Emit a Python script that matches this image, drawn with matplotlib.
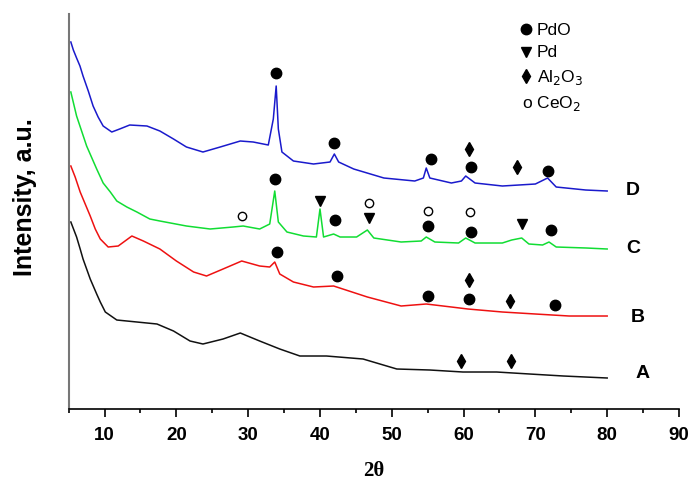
import matplotlib
matplotlib.use("Agg")
import matplotlib.pyplot as plt
from matplotlib.ticker import MultipleLocator

plt.rcParams['font.family'] = ['Liberation Sans', 'DejaVu Sans']

# ---- data (intensity in arbitrary units) ----
D_x = [5.3, 5.65, 6.1, 6.57, 7.0, 7.73, 8.4, 9.1, 9.8, 11.0, 12.1, 13.5, 15.9, 17.7, 19.6, 21.4,
       23.7, 26.1, 28.9, 30.7, 32.8, 33.5, 33.9, 34.2, 34.7, 36.3, 39.1, 41.4, 42.0, 42.6, 44.7,
       48.9, 53.2, 54.4, 54.8, 55.3, 58.3, 59.7, 60.3, 61.6, 65.4, 70.0, 71.7, 72.9, 77.0, 80.0]
D_y = [367, 359, 351, 343, 333, 318, 303, 292, 283, 277, 280, 284, 283, 278, 270, 262,
       257, 262, 268, 267, 264, 290, 323, 280, 257, 248, 245, 247, 255, 247, 240,
       231, 228, 231, 241, 231, 226, 228, 233, 226, 223, 225, 231, 222, 219, 218]

C_x = [5.3, 6.1, 7.5, 8.9, 9.8, 10.8, 11.7, 13.1, 14.5, 16.3, 17.7, 21.4, 24.7, 27.9, 29.3, 31.6,
       33.0, 33.7, 34.2, 35.4, 37.7, 39.5, 40.0, 40.5, 41.9, 42.8, 45.1, 46.6, 47.5, 51.3, 54.1,
       54.8, 56.0, 59.3, 60.3, 61.6, 65.4, 66.7, 68.1, 69.1, 71.0, 71.9, 72.9, 77.1, 80.0]
C_y = [317, 293, 263, 240, 226, 217, 208, 202, 197, 190, 188, 183, 180, 182, 183, 180,
       185, 218, 187, 177, 173, 172, 200, 172, 175, 172, 172, 179, 171, 167, 168,
       172, 167, 166, 171, 166, 166, 169, 171, 165, 164, 167, 162, 161, 160]

B_x = [5.3, 5.9, 6.6, 7.3, 8.0, 8.7, 9.4, 10.5, 11.9, 13.8, 15.4, 17.7, 20.0, 22.4, 24.2, 26.5,
       29.1, 31.6, 33.0, 33.7, 34.4, 36.3, 39.1, 41.9, 46.6, 51.3, 54.8, 58.3, 60.6, 65.4, 70.0,
       74.7, 80.0]
B_y = [243, 232, 217, 205, 193, 180, 170, 162, 163, 173, 168, 160, 148, 137, 133, 140,
       148, 143, 142, 147, 135, 127, 122, 123, 112, 103, 105, 102, 100, 97, 95,
       93, 93]

A_x = [5.3, 6.1, 6.6, 7.0, 8.0, 8.9, 9.4, 10.1, 11.7, 14.5, 17.3, 19.6, 21.9, 23.7, 26.5, 28.9,
       31.6, 34.4, 37.2, 40.9, 46.0, 50.7, 55.3, 59.9, 64.6, 69.2, 73.9, 80.0]
A_y = [187, 172, 160, 150, 130, 115, 107, 97, 89, 87, 85, 78, 68, 65, 70, 76,
       68, 60, 53, 53, 50, 40, 39, 37, 37, 35, 33, 31]

series_names = ['A', 'B', 'C', 'D']
series_colors = ['#111111', '#ee1111', '#11dd33', '#1a1acc']
label_x = [84.9, 84.3, 83.7, 83.6]
label_y = [37, 93, 162, 220]

# phase markers
PdO_x = [33.9, 42.0, 55.4, 61.1, 71.7, 33.7, 42.1, 55.0, 61.0, 72.2, 34.0, 42.4, 55.0, 60.7, 72.7]
PdO_y = [336, 266, 250, 242.5, 238, 230, 189, 183, 177.5, 179, 157, 133, 113, 110, 104]
Pd_x = [40.0, 46.8, 68.1]
Pd_y = [208, 191, 185]
Al2O3_x = [60.7, 67.4, 60.7, 66.5, 59.7, 66.6]
Al2O3_y = [260, 242.5, 129, 108, 48, 48]
CeO2_x = [29.2, 46.8, 55.1, 60.9]
CeO2_y = [193, 206, 198, 197]

legend_labels = ['PdO', 'Pd', 'Al$_2$O$_3$', 'CeO$_2$']

fig = plt.figure(figsize=(6.91, 4.81), dpi=100)
ax = fig.add_axes([0.0994, 0.1476, 0.8832, 0.8212])

curves = [(A_x, A_y), (B_x, B_y), (C_x, C_y), (D_x, D_y)]
for (xs, ys), c in zip(curves, series_colors):
    ax.plot(xs, ys, color=c, lw=1.1)

for n, lx, ly in zip(series_names, label_x, label_y):
    ax.text(lx, ly, n, fontsize=14, fontweight='bold', ha='center', va='center')

ax.plot(PdO_x, PdO_y, 'o', color='black', ms=7.5, ls='none')
ax.plot(Pd_x, Pd_y, 'v', color='black', ms=7.5, ls='none')
ax.plot(Al2O3_x, Al2O3_y, 'd', color='black', ms=7.3, ls='none')
ax.plot(CeO2_x, CeO2_y, 'o', mfc='white', mec='black', mew=1.0, ms=6, ls='none')

# legend (manual)
leg_rows = [0.962, 0.904, 0.843, 0.775]
mk = ['o', 'v', 'd', None]
mks = [7.5, 7.5, 7.3, 0]
for r, m, s, lab in zip(leg_rows, mk, mks, legend_labels):
    if m is not None:
        ax.plot([0.749], [r], m, color='black', ms=s, transform=ax.transAxes, clip_on=False)
        ax.text(0.767, r, lab, fontsize=12.5, ha='left', va='center', transform=ax.transAxes)
    else:
        ax.text(0.743, r, 'o ' + lab, fontsize=12.5, ha='left', va='center', transform=ax.transAxes)

ax.set_xlim(5, 90)
ax.set_ylim(0, 395)
ax.xaxis.set_minor_locator(MultipleLocator(5))
ax.set_xticks([10, 20, 30, 40, 50, 60, 70, 80, 90])
ax.tick_params(axis='x', which='major', direction='out', length=6, width=1.2,
               labelsize=13.5, pad=6)
ax.tick_params(axis='x', which='minor', direction='out', length=3, width=1.2)
for t in ax.get_xticklabels():
    t.set_fontweight('bold')
ax.set_yticks([])
ax.spines['top'].set_visible(False)
ax.spines['right'].set_visible(False)
ax.spines['left'].set_color('#777777')
ax.spines['left'].set_linewidth(1.5)
ax.spines['bottom'].set_linewidth(1.2)

ax.text(-0.0716, 0.539, 'Intensity, a.u.', fontsize=18, fontweight='bold', rotation=90,
        ha='center', va='center', transform=ax.transAxes)
ax.text(0.5, -0.155, '2θ', fontsize=15, fontweight='bold', family=['Liberation Serif', 'DejaVu Serif'],
        ha='center', va='center', transform=ax.transAxes)

fig.savefig('out.png', dpi=100)
